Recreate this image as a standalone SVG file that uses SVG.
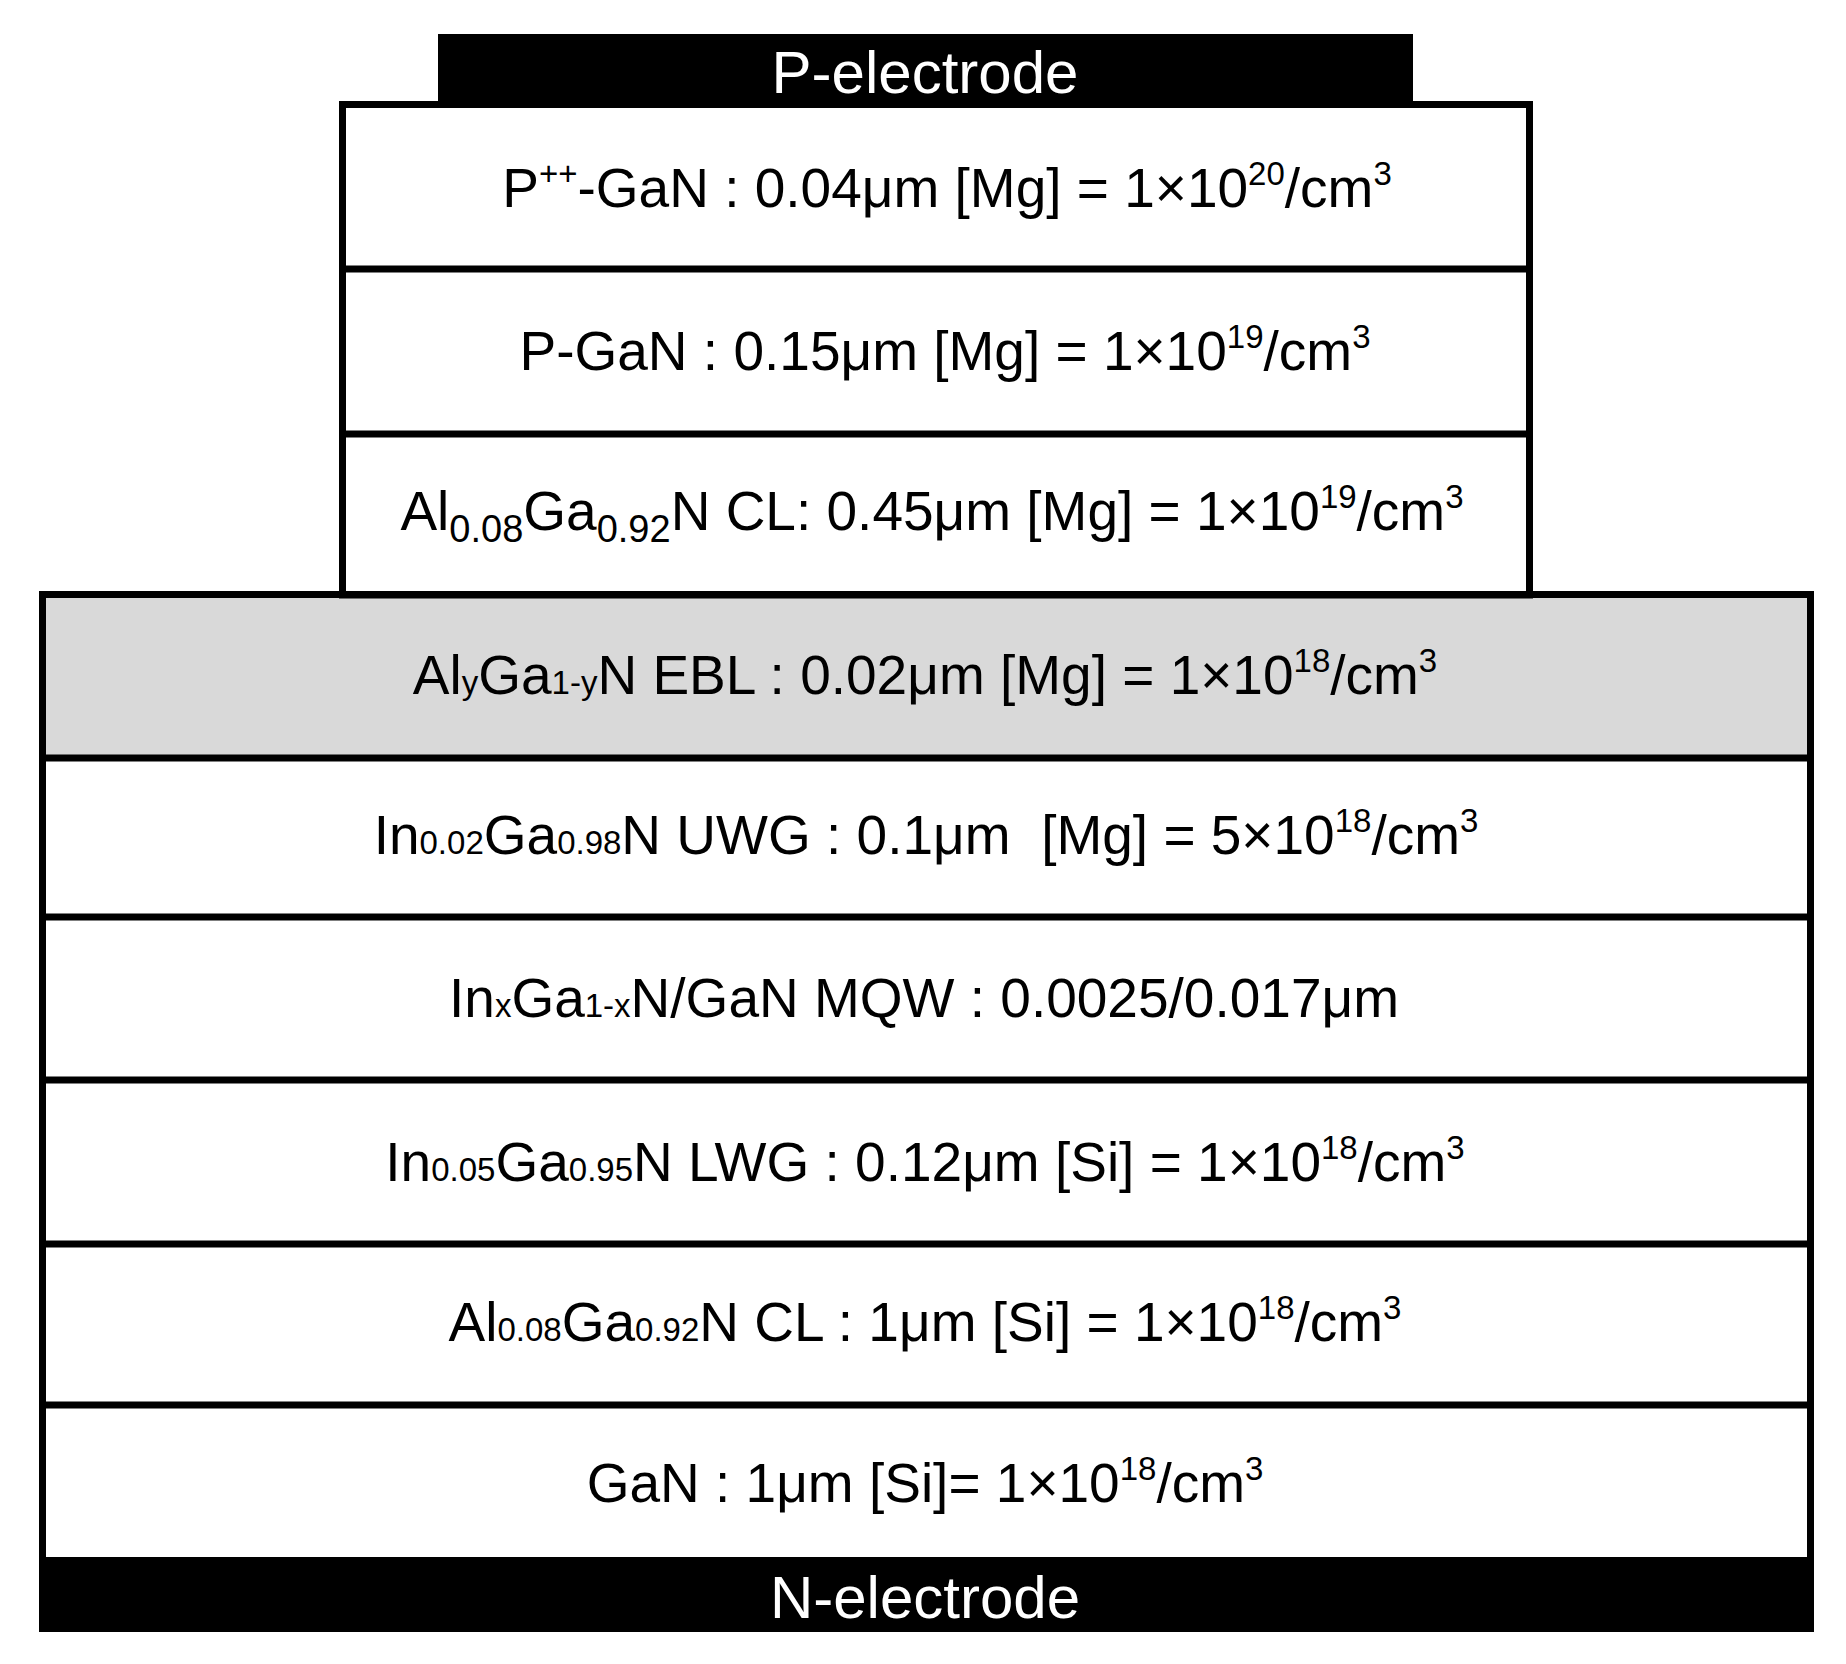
<svg xmlns="http://www.w3.org/2000/svg" width="1846" height="1664" viewBox="0 0 1846 1664">
<style>
.lbl{font-family:"Liberation Sans",Arial,sans-serif;font-size:55px;fill:#000;text-anchor:middle}
.el{font-family:"Liberation Sans",Arial,sans-serif;font-size:60px;fill:#fff;text-anchor:middle}
.ln{stroke:#000;stroke-width:7;fill:none}
.sup{font-size:33px}
.sub{font-size:38px}
.subs{font-size:33px}
</style>
<rect width="1846" height="1664" fill="#fff"/>
<g id="p-electrode">
<rect x="438" y="34" width="975" height="70" fill="#000"/>
<text class="el" x="925" y="93">P-electrode</text>
</g>
<g id="ebl-fill">
<rect x="42" y="598" width="1769" height="157" fill="#d9d9d9"/>
</g>
<g id="layers">
<rect class="ln" x="342.5" y="104.5" width="1187" height="490.5"/>
<rect class="ln" x="42.5" y="594.5" width="1768" height="970"/>
<line class="ln" x1="342" y1="269" x2="1530" y2="269"/>
<line class="ln" x1="342" y1="434" x2="1530" y2="434"/>
<line class="ln" x1="42" y1="758" x2="1811" y2="758"/>
<line class="ln" x1="42" y1="917" x2="1811" y2="917"/>
<line class="ln" x1="42" y1="1080" x2="1811" y2="1080"/>
<line class="ln" x1="42" y1="1244" x2="1811" y2="1244"/>
<line class="ln" x1="42" y1="1405" x2="1811" y2="1405"/>
</g>
<g id="n-electrode">
<rect x="39" y="1557" width="1775" height="75" fill="#000"/>
<text class="el" x="925" y="1618">N-electrode</text>
</g>
<g id="labels">
<text id="t1" class="lbl" x="947" y="207">P<tspan class="sup" dy="-22">++</tspan><tspan dy="22">-GaN : 0.04μm [Mg] = 1×10</tspan><tspan class="sup" dy="-22">20</tspan><tspan dy="22">/cm</tspan><tspan class="sup" dy="-22">3</tspan></text>
<text id="t2" class="lbl" x="945" y="370">P-GaN : 0.15μm [Mg] = 1×10<tspan class="sup" dy="-22">19</tspan><tspan dy="22">/cm</tspan><tspan class="sup" dy="-22">3</tspan></text>
<text id="t3" class="lbl" x="932" y="530">Al<tspan class="sub" dy="12">0.08</tspan><tspan dy="-12">Ga</tspan><tspan class="sub" dy="12">0.92</tspan><tspan dy="-12">N CL: 0.45μm [Mg] = 1×10</tspan><tspan class="sup" dy="-22">19</tspan><tspan dy="22">/cm</tspan><tspan class="sup" dy="-22">3</tspan></text>
<text id="t4" class="lbl" x="925" y="694">Al<tspan class="subs">y</tspan>Ga<tspan class="subs">1-y</tspan>N EBL : 0.02μm [Mg] = 1×10<tspan class="sup" dy="-22">18</tspan><tspan dy="22">/cm</tspan><tspan class="sup" dy="-22">3</tspan></text>
<text id="t5" class="lbl" x="926" y="854" xml:space="preserve">In<tspan class="subs">0.02</tspan>Ga<tspan class="subs">0.98</tspan>N UWG : 0.1μm  [Mg] = 5×10<tspan class="sup" dy="-22">18</tspan><tspan dy="22">/cm</tspan><tspan class="sup" dy="-22">3</tspan></text>
<text id="t6" class="lbl" x="924" y="1017">In<tspan class="subs">x</tspan>Ga<tspan class="subs">1-x</tspan>N/GaN MQW : 0.0025/0.017μm</text>
<text id="t7" class="lbl" x="925" y="1181">In<tspan class="subs">0.05</tspan>Ga<tspan class="subs">0.95</tspan>N LWG : 0.12μm [Si] = 1×10<tspan class="sup" dy="-22">18</tspan><tspan dy="22">/cm</tspan><tspan class="sup" dy="-22">3</tspan></text>
<text id="t8" class="lbl" x="925" y="1341">Al<tspan class="subs">0.08</tspan>Ga<tspan class="subs">0.92</tspan>N CL : 1μm [Si] = 1×10<tspan class="sup" dy="-22">18</tspan><tspan dy="22">/cm</tspan><tspan class="sup" dy="-22">3</tspan></text>
<text id="t9" class="lbl" x="925" y="1502">GaN : 1μm [Si]= 1×10<tspan class="sup" dy="-22">18</tspan><tspan dy="22">/cm</tspan><tspan class="sup" dy="-22">3</tspan></text>
</g>
</svg>
